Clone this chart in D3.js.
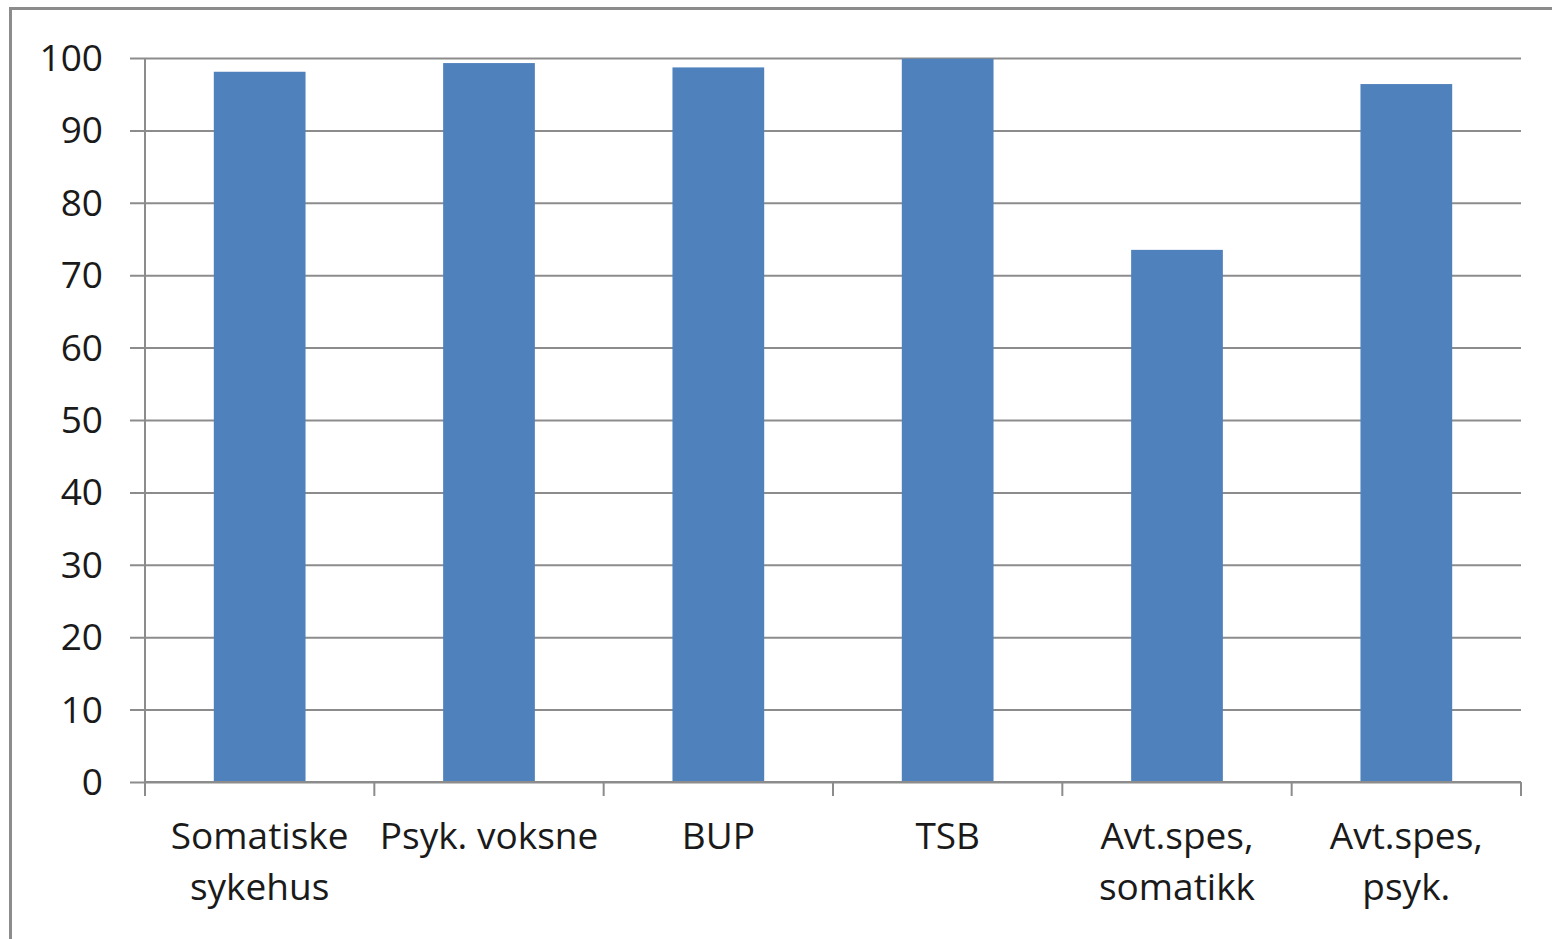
<!DOCTYPE html>
<html><head><meta charset="utf-8">
<script src="https://cdn.jsdelivr.net/npm/d3@7"></script>
<style>html,body{margin:0;padding:0;background:#fff;overflow:hidden}</style>
</head><body>
<svg id="c" width="1552" height="939"></svg>
<script>
const categories = [["Somatiske","sykehus"],["Psyk. voksne"],["BUP"],["TSB"],["Avt.spes,","somatikk"],["Avt.spes,","psyk."]];
const values = [98.1, 99.3, 98.7, 99.9, 73.5, 96.4];
const yTicks = [0,10,20,30,40,50,60,70,80,90,100];

const svg = d3.select("#c");
const pLeft = 145, pRight = 1521, pTop = 58, pBottom = 782;
const font = "'Open Sans', Lato, sans-serif";

svg.append("rect").attr("x",10.5).attr("y",8.5).attr("width",1560).attr("height",960)
  .attr("fill","#fff").attr("stroke","#8c8c8c").attr("stroke-width",3);

const x = d3.scaleBand().domain(d3.range(categories.length)).range([pLeft,pRight]).paddingInner(0.6).paddingOuter(0.3);
const xb = d3.scaleBand().domain(d3.range(categories.length)).range([pLeft,pRight]);
const y = d3.scaleLinear().domain([0,100]).range([pBottom,pTop]);

// grid
const ya = d3.axisLeft(y).tickValues(yTicks).tickSize(-(pRight-pLeft)).tickFormat("");
const gg = svg.append("g").attr("transform",`translate(${pLeft},0)`).call(ya);
gg.select(".domain").remove();
gg.selectAll("line").attr("stroke","#8c8c8c").attr("stroke-width",2).attr("x1",-15);

svg.append("line").attr("x1",pLeft).attr("x2",pLeft).attr("y1",pTop).attr("y2",pBottom).attr("stroke","#8c8c8c").attr("stroke-width",2);

// y labels
svg.append("g").selectAll("text").data(yTicks).join("text")
  .attr("x",103).attr("y",d=>y(d)).attr("dy","0.35em").attr("text-anchor","end")
  .attr("font-family",font).attr("font-size",37).attr("fill","#1a1a1a").text(d=>d);

// bars
svg.append("g").selectAll("rect").data(values).join("rect")
  .attr("x",(d,i)=>x(i)).attr("width",x.bandwidth()).attr("y",d=>y(d)).attr("height",d=>pBottom-y(d))
  .attr("fill","#4f81bd");

// x axis
svg.append("line").attr("x1",pLeft).attr("x2",pRight).attr("y1",pBottom).attr("y2",pBottom).attr("stroke","#8c8c8c").attr("stroke-width",2);
const xt = d3.range(categories.length+1).map(i=> i<categories.length ? xb(i) : pRight);
svg.append("g").selectAll("line").data(xt).join("line")
  .attr("x1",d=>d).attr("x2",d=>d).attr("y1",pBottom).attr("y2",pBottom+14).attr("stroke","#8c8c8c").attr("stroke-width",2);

const lab = svg.append("g").selectAll("text").data(categories).join("text")
  .attr("x",(d,i)=>xb(i)+xb.bandwidth()/2).attr("y",836).attr("text-anchor","middle")
  .attr("font-family",font).attr("font-size",37).attr("fill","#1a1a1a");
lab.each(function(d){
  const t = d3.select(this);
  d.forEach((s,j)=>t.append("tspan").attr("x",t.attr("x")).attr("dy", j===0?"0.35em":"1.38em").text(s));
});
</script>
</body></html>
